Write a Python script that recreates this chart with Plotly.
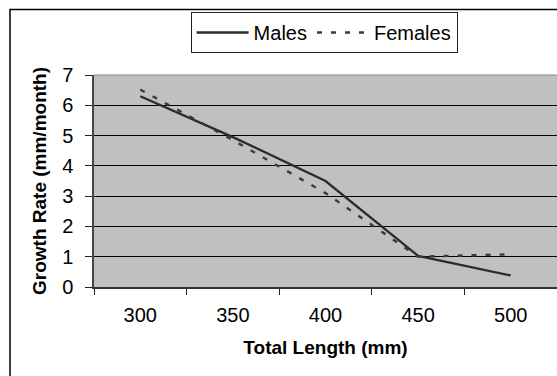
import plotly.graph_objects as go

lengths = ["300", "350", "400", "450", "500"]
males = [6.3, 4.95, 3.5, 1.03, 0.38]
females = [6.52, 4.85, 3.1, 1.0, 1.08]

W, H = 557, 376
L, R, T, B = 94, 0, 75, 89
pw = W - L - R
ph = H - T - B

FONT = "Liberation Sans, Arial, sans-serif"

fig = go.Figure()
fig.add_trace(go.Scatter(x=lengths, y=males, mode="lines", name="Males",
                         line=dict(color="#2b2b2b", width=2.3)))
fig.add_trace(go.Scatter(x=lengths, y=females, mode="lines", name="Females",
                         line=dict(color="#3a3a3a", width=2.4, dash="5px,9px")))

def px_x(x):
    return (x - L) / pw

def px_y(y):
    return (H - B - y) / ph

fig.update_layout(
    width=W, height=H,
    margin=dict(l=L, r=R, t=T, b=B),
    paper_bgcolor="white",
    plot_bgcolor="#c0c0c0",
    font=dict(family=FONT, size=20, color="black"),
    legend=dict(orientation="h", x=0.497, xanchor="center", y=px_y(12), yanchor="top",
                bordercolor="#222", borderwidth=1, bgcolor="white",
                font=dict(size=20), itemwidth=52, tracegroupgap=0),
    xaxis=dict(type="category", range=[-0.5, 4.5], tickson="boundaries",
               ticks="outside", ticklen=6, tickcolor="#222", showgrid=False,
               showline=True, linecolor="#333", linewidth=1.5,
               tickfont=dict(size=20), ticklabelstandoff=9,
               title=dict(text="<b>Total Length (mm)</b>", font=dict(size=19), standoff=16)),
    yaxis=dict(range=[0, 7], dtick=1, ticks="outside", ticklen=7, tickcolor="#222",
               showgrid=True, gridcolor="black", gridwidth=1,
               showline=True, linecolor="#444", linewidth=1.5,
               zeroline=False, tickfont=dict(size=20), ticklabelstandoff=8,
               title=dict(text="<b>Growth Rate (mm/month)</b>", font=dict(size=19), standoff=10)),
    shapes=[
        dict(type="rect", xref="paper", yref="paper",
             x0=px_x(10), x1=px_x(W + 20), y0=px_y(H + 20), y1=px_y(9.5),
             line=dict(color="black", width=1.5), layer="below"),
        dict(type="line", xref="paper", yref="paper", x0=0, x1=1, y0=1, y1=1,
             line=dict(color="#888", width=1)),
    ],
)

fig.write_html("out.html")
